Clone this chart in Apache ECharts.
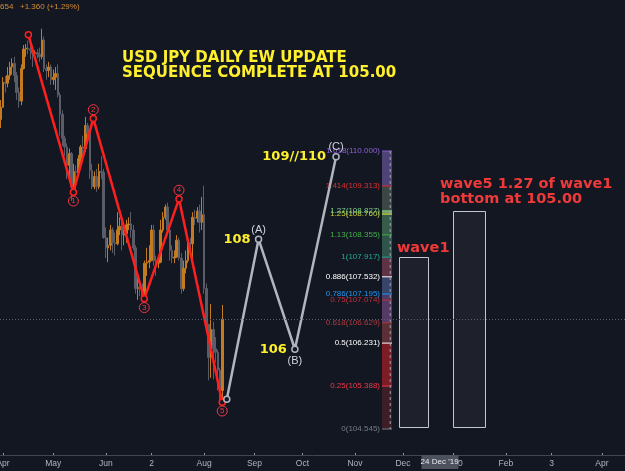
<!DOCTYPE html>
<html>
<head>
<meta charset="utf-8">
<style>
  html, body { margin: 0; padding: 0; background: #131722; }
  #chart { width: 625px; height: 471px; }
</style>
<script src="https://cdn.jsdelivr.net/npm/echarts@6/dist/echarts.min.js"></script>
</head>
<body>
<div id="chart"></div>
<script>
// x is a trading-day count, 0 = 1 Apr 2019
const firstBar = -2;
// daily candles [open, close, low, high], 28 Mar 2019 .. 13 Aug 2019
const candles = [
  [110.50, 110.62, 110.10, 110.80], [110.62, 110.86, 110.45, 111.00],
  [110.86, 111.35, 110.85, 111.45], [111.35, 111.33, 111.15, 111.47],
  [111.33, 111.48, 111.25, 111.65], [111.48, 111.65, 111.40, 111.75],
  [111.65, 111.72, 111.50, 111.82], [111.72, 111.48, 111.35, 111.85],
  [111.48, 111.15, 111.00, 111.55], [111.15, 110.98, 110.85, 111.25],
  [110.98, 111.62, 110.90, 111.70], [111.62, 112.00, 111.60, 112.08],
  [112.00, 112.02, 111.85, 112.10], [112.02, 112.00, 111.90, 112.17],
  [112.00, 111.98, 111.80, 112.17], [111.98, 111.92, 111.65, 112.05],
  [111.92, 111.93, 111.85, 111.98], [111.93, 111.90, 111.82, 112.00],
  [111.90, 111.85, 111.75, 112.03], [111.85, 112.18, 111.80, 112.40],
  [112.18, 111.62, 111.55, 112.25], [111.62, 111.58, 111.40, 111.70],
  [111.58, 111.65, 111.45, 111.75], [111.65, 111.40, 111.30, 111.70],
  [111.40, 111.45, 111.30, 111.60], [111.45, 111.52, 111.20, 111.65],
  [111.52, 111.10, 111.05, 111.70], [111.10, 110.72, 110.30, 111.15],
  [110.72, 110.25, 110.10, 110.80], [110.25, 110.08, 109.90, 110.30],
  [110.08, 109.72, 109.45, 110.15], [109.72, 109.95, 109.48, 110.05],
  [109.95, 109.30, 109.02, 109.98], [109.30, 109.60, 109.20, 109.75],
  [109.60, 109.58, 109.18, 109.72], [109.58, 109.85, 109.55, 109.92],
  [109.85, 110.08, 109.75, 110.12], [110.08, 110.05, 109.90, 110.30],
  [110.05, 110.50, 109.98, 110.67], [110.50, 110.35, 110.20, 110.55],
  [110.35, 109.62, 109.45, 110.40], [109.62, 109.30, 109.25, 109.75],
  [109.30, 109.50, 109.25, 109.60], [109.50, 109.30, 109.20, 109.65],
  [109.30, 109.60, 109.25, 109.75], [109.60, 109.58, 109.45, 109.90],
  [109.58, 108.30, 108.28, 109.65], [108.30, 108.10, 107.90, 108.50],
  [108.10, 108.15, 107.82, 108.30], [108.15, 108.45, 108.05, 108.55],
  [108.45, 108.20, 108.00, 108.50], [108.20, 108.18, 107.95, 108.40],
  [108.18, 108.45, 108.15, 108.80], [108.45, 108.52, 108.35, 108.70],
  [108.52, 108.35, 108.05, 108.60], [108.35, 108.38, 108.15, 108.50],
  [108.38, 108.55, 108.20, 108.65], [108.55, 108.57, 108.45, 108.70],
  [108.57, 108.45, 108.30, 108.80], [108.45, 108.10, 108.05, 108.55],
  [108.10, 107.30, 107.20, 108.15], [107.30, 107.32, 107.08, 107.55],
  [107.32, 107.30, 107.15, 107.50], [107.30, 107.15, 107.05, 107.40],
  [107.15, 107.80, 107.10, 107.85], [107.80, 107.82, 107.55, 108.10],
  [107.82, 107.85, 107.70, 108.15], [107.85, 108.45, 107.85, 108.55],
  [108.45, 107.85, 107.75, 108.55], [107.85, 107.80, 107.55, 107.95],
  [107.80, 107.82, 107.70, 107.95], [107.82, 108.45, 107.80, 108.65],
  [108.45, 108.70, 108.40, 108.80], [108.70, 108.90, 108.65, 108.95],
  [108.90, 108.45, 108.40, 108.99], [108.45, 108.05, 107.85, 108.55],
  [108.05, 107.90, 107.80, 108.15], [107.90, 107.92, 107.80, 108.05],
  [107.92, 108.25, 107.90, 108.35], [108.25, 107.90, 107.85, 108.30],
  [107.90, 107.30, 107.20, 108.00], [107.30, 107.70, 107.25, 107.85],
  [107.70, 107.85, 107.60, 108.05], [107.85, 108.20, 107.80, 108.25],
  [108.20, 108.18, 107.95, 108.30], [108.18, 108.70, 107.85, 108.80],
  [108.70, 108.68, 108.55, 108.85], [108.68, 108.82, 108.60, 108.90],
  [108.82, 108.60, 108.40, 108.95], [108.60, 108.75, 108.45, 109.10],
  [108.75, 107.30, 107.20, 109.32], [107.30, 106.60, 106.50, 107.40],
  [106.60, 105.95, 105.50, 106.60], [105.95, 106.50, 105.55, 107.00],
  [106.50, 106.12, 105.52, 106.65], [106.12, 106.05, 105.85, 106.35],
  [106.05, 105.70, 105.30, 106.10], [105.70, 105.30, 105.05, 105.75],
  [105.30, 106.70, 105.10, 106.98]
];

const monthTicks = [0, 22, 45, 65, 88, 110, 131, 154, 175, 197, 220, 240, 262];
const monthLabels = ['Apr', 'May', 'Jun', '2', 'Aug', 'Sep', 'Oct', 'Nov', 'Dec', '2020', 'Feb', '3', 'Apr'];
const crosshairBar = 191;
const crosshairLabel = "24 Dec '19";
const crosshairPrice = 106.70;

// elliott impulse 0-5
const impulseX = [11.1, 30.8, 39.5, 61.8, 77, 95.9];
const impulseY = [112.28, 109.19, 110.64, 107.10, 109.06, 105.07];
const impulseLabels = ['', '1', '2', '3', '4', '5'];

// corrective a-b-c projection
const correctionX = [97.9, 111.8, 127.7, 145.7];
const correctionY = [105.13, 108.27, 106.11, 109.89];
const correctionLabels = ['', '(A)', '(B)', '(C)'];
const targetLabels = ['', '108', '106', '109//110'];

// fib levels
const fibRatios = [0, 0.25, 0.5, 0.618, 0.75, 0.786, 0.886, 1, 1.13, 1.25, 1.27, 1.414, 1.618];
const fibPrices = [104.545, 105.388, 106.231, 106.629, 107.074, 107.195, 107.532, 107.917, 108.355, 108.760, 108.827, 109.313, 110.000];
const fibBand = [165.8, 170.2];
const fibTrendX = 169.4;

// boxes [x0, x1, top, bottom]
const boxes = [
  [173.2, 185.9, 107.917, 104.58],
  [196.9, 210.8, 108.827, 104.58]
];
const boxNotes = ['wave1', 'wave5 1.27 of wave1\nbottom at 105.00'];

const fibColors = ['#787b86', '#f23645', '#ffffff', '#b03a40', '#c2303a', '#2196f3', '#ffffff',
  '#22ab94', '#43b049', '#c6d43c', '#7ccf8a', '#d8302f', '#8e5fd6'];
const fibZoneColors = ['#3d1d26', '#7c1d25', '#5c2f36', '#553a66', '#4d3c64', '#37456a',
  '#5e3346', '#2f5449', '#375d4a', '#7a9b5a', '#3a4745', '#4f4276'];
const boxTextShift = [[-2, -1], [-13, -4]];

const red = '#ff1f1f';
const grey = '#b2b5be';
const yellow = '#fff02e';

const chart = echarts.init(document.getElementById('chart'));

const candleData = candles.map((c, i) => [firstBar + i].concat(c));

const impulseData = impulseX.map((x, i) => ({
  value: [x, impulseY[i]],
  label: {
    show: i > 0,
    formatter: impulseLabels[i],
    position: i % 2 ? 'bottom' : 'top',
    distance: 0
  }
}));

const correctionDist = [0, 0, 2.5, 0.5];
const correctionData = correctionX.map((x, i) => ({
  value: [x, correctionY[i]],
  label: {
    show: i > 0,
    formatter: correctionLabels[i],
    position: i === 2 ? 'bottom' : 'top',
    distance: correctionDist[i]
  }
}));

const targetDist = [0, 8, 8, 10];
const targetData = correctionX.map((x, i) => ({
  value: [x, correctionY[i]],
  label: { show: i > 0, formatter: targetLabels[i], distance: targetDist[i] }
}));

function renderFib(params, api) {
  const i = api.value(2);
  const a = api.coord([fibBand[0], fibPrices[i]]);
  const b = api.coord([fibBand[1], fibPrices[i]]);
  const kids = [];
  if (i < fibPrices.length - 1) {
    const t = api.coord([fibBand[0], fibPrices[i + 1]]);
    kids.push({ type: 'rect', shape: { x: a[0], y: t[1], width: b[0] - a[0], height: a[1] - t[1] },
      style: { fill: fibZoneColors[i] } });
  }
  kids.push({ type: 'line', shape: { x1: a[0], y1: a[1], x2: b[0], y2: b[1] },
    style: { stroke: fibColors[i], lineWidth: 1 } });
  kids.push({ type: 'text', x: a[0] - 2, y: a[1], style: {
    text: fibRatios[i] + '(' + fibPrices[i].toFixed(3) + ')',
    fill: fibColors[i], font: '8px "Liberation Sans"', align: 'right', verticalAlign: 'middle' } });
  if (i === 0) {
    const top = api.coord([fibTrendX, fibPrices[fibPrices.length - 1]]);
    const bot = api.coord([fibTrendX, fibPrices[0]]);
    kids.push({ type: 'line', z2: 5, shape: { x1: top[0], y1: top[1], x2: bot[0], y2: bot[1] },
      style: { stroke: '#a5a8b0', lineWidth: 1, lineDash: [3, 3] } });
  }
  return { type: 'group', children: kids };
}

function renderBox(params, api) {
  const i = params.dataIndex;
  const tl = api.coord([api.value(0), api.value(2)]);
  const br = api.coord([api.value(1), api.value(3)]);
  return { type: 'group', children: [
    { type: 'rect', shape: { x: Math.round(tl[0]) + 0.5, y: Math.round(tl[1]) + 0.5,
        width: Math.round(br[0] - tl[0]), height: Math.round(br[1] - tl[1]) },
      style: { fill: '#1e212b', stroke: '#c3c6cd', lineWidth: 1 } },
    { type: 'text', x: tl[0] + boxTextShift[i][0], y: tl[1] + boxTextShift[i][1], style: {
      text: boxNotes[i], fill: '#f03a3a', font: 'bold 14.5px "DejaVu Sans"', lineHeight: 15,
      align: 'left', verticalAlign: 'bottom' } }
  ] };
}

chart.setOption({
  backgroundColor: '#131722',
  animation: false,
  grid: { left: 0, right: 0, top: 0, bottom: 16, containLabel: false, outerBoundsMode: 'none' },
  xAxis: {
    type: 'value', min: -1.31, max: 272.1,
    splitLine: { show: false },
    axisLine: { show: true, lineStyle: { color: '#434651', width: 1 } },
    axisTick: { show: true, inside: true, length: 2, customValues: monthTicks, lineStyle: { color: '#9598a1' } },
    axisLabel: {
      customValues: monthTicks, color: '#b2b5be', fontSize: 8.5, fontFamily: 'Liberation Sans',
      margin: 4, hideOverlap: false,
      formatter: v => monthLabels[monthTicks.indexOf(v)]
    }
  },
  yAxis: { type: 'value', min: 104.035, max: 112.964, show: false, splitLine: { show: false } },
  series: [
    {
      type: 'candlestick', data: candleData, barWidth: 2, z: 1,
      itemStyle: { color: '#c47b1f', color0: '#5a5d68', borderColor: '#c47b1f', borderColor0: '#5a5d68', borderWidth: 1 },
      markLine: {
        silent: true, symbol: 'none', label: { show: false },
        lineStyle: { color: '#5d606b', type: [1, 2], width: 1 },
        data: [{ yAxis: crosshairPrice }]
      }
    },
    {
      type: 'custom', renderItem: renderFib, z: 2, silent: true,
      data: fibPrices.map((p, i) => [fibBand[0], p, i]), encode: { x: 0, y: 1 }
    },
    {
      type: 'custom', renderItem: renderBox, z: 2, silent: true,
      data: boxes, encode: { x: [0, 1], y: [2, 3] }
    },
    {
      type: 'line', data: impulseData, z: 4,
      symbol: 'circle', symbolSize: 6,
      lineStyle: { color: red, width: 2.5 },
      itemStyle: { color: '#131722', borderColor: red, borderWidth: 1.5 },
      label: {
        color: '#f23645', fontSize: 8, fontFamily: 'Liberation Sans',
        borderColor: '#f23645', borderWidth: 1, borderRadius: 6,
        width: 10, height: 10, lineHeight: 10, align: 'center', padding: 0
      }
    },
    {
      type: 'line', data: correctionData, z: 4,
      symbol: 'circle', symbolSize: 6,
      lineStyle: { color: grey, width: 2.5 },
      itemStyle: { color: '#131722', borderColor: grey, borderWidth: 1.5 },
      label: { color: '#d1d4dc', fontSize: 11, fontFamily: 'Liberation Sans' }
    },
    {
      type: 'scatter', data: targetData, z: 5, symbolSize: 0,
      itemStyle: { opacity: 1 },
      label: { position: 'left', color: yellow, fontSize: 13, fontWeight: 'bold', fontFamily: 'DejaVu Sans' }
    }
  ]
});

const tagX = chart.convertToPixel({ xAxisIndex: 0 }, crosshairBar);
chart.setOption({
  graphic: [
    { type: 'text', left: 0, top: 3, style: { text: '654', fill: '#d58c35', font: '8px "Liberation Sans"' } },
    { type: 'text', left: 20, top: 3, style: { text: '+1.360 (+1.29%)', fill: '#d58c35', font: '8px "Liberation Sans"' } },
    { type: 'text', left: 122, top: 51, style: {
        text: 'USD JPY DAILY EW UPDATE\nSEQUENCE COMPLETE AT 105.00',
        fill: yellow, font: 'bold 15px "DejaVu Sans"', lineHeight: 14.5 } },
    { type: 'rect', shape: { x: Math.round(tagX) - 18.5, y: 455, width: 37, height: 14 },
      style: { fill: '#4c525e' }, z: 10 },
    { type: 'text', x: tagX, y: 462, z: 11, style: {
        text: crosshairLabel, fill: '#e8e9ec', font: '8px "Liberation Sans"',
        align: 'center', verticalAlign: 'middle' } }
  ]
});
</script>
</body>
</html>
